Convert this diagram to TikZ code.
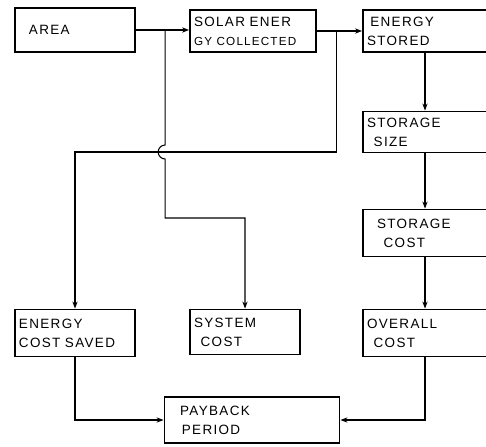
\documentclass[tikz,border=0pt]{standalone}
\usepackage{fontspec}
\setsansfont{Liberation Sans}[LetterSpace=10]
\usetikzlibrary{arrows.meta,calc}

\begin{document}
\begin{tikzpicture}[x=0.03cm, y=-0.03cm,
    box/.style={draw, line width=1.6pt, inner xsep=0.12cm, inner ysep=2pt, align=left,
      font=\sffamily\fontsize{11.5}{16}\selectfont},
    link/.style={line width=0.9pt},
    conn/.style={link, -{Stealth[length=6pt,width=4.5pt]}}]
    \useasboundingbox (0,0) rectangle (486,446);
    \clip (0,0) rectangle (486,446);
    % top row
    \node[box, text width=3.36cm, minimum height=1.32cm] (area) at (75,30) {\hspace*{0.3cm}AREA};
    \node[box, text width=3.54cm, minimum height=1.26cm] (solar) at (253,31) {SOLAR ENER\\{\fontsize{10}{16}\selectfont GY COLLECTED}};
    \node[box, text width=3.48cm, minimum height=1.26cm] (stored) at (425,31) {\hspace*{0.1cm}ENERGY\\STORED};
    % right column
    \node[box, text width=3.48cm, minimum height=1.23cm] (size) at (425,132) {STORAGE\\\hspace*{0.2cm}SIZE};
    \node[box, text width=3.48cm, minimum height=1.41cm] (stcost) at (425,233) {\hspace*{0.3cm}STORAGE\\\hspace*{0.5cm}COST};
    % bottom row
    \node[box, text width=3.36cm, minimum height=1.41cm] (saved) at (75,333) {ENERGY\\COST SAVED};
    \node[box, text width=3.06cm, minimum height=1.35cm] (system) at (245,332) {SYSTEM\\\hspace*{0.2cm}COST};
    \node[box, text width=3.48cm, minimum height=1.41cm] (overall) at (425,333) {OVERALL\\\hspace*{0.2cm}COST};
    \node[box, text width=5.01cm, minimum height=1.38cm] (payback) at (252,420) {\hspace*{0.35cm}PAYBACK\\\hspace*{0.4cm}PERIOD};

    % branch points
    \coordinate (j1) at ($(area.east)!0.55!(area.east -| solar.west)$);
    \coordinate (j2) at ($(solar.east)!0.43!(solar.east -| stored.west)$);
    \coordinate (k1) at (j1 |- 0,218);
    \coordinate (k2) at (j2 |- 0,152);

    \draw[conn] (area.east) -- (area.east -| solar.west);
    \draw[conn] (solar.east) -- (solar.east -| stored.west);
    \draw[conn] (j2) -- (k2) -| (saved.north);
    \draw[conn] (j1) -- ($(k2 -| j1)+(0,-7)$) arc[start angle=90, end angle=270, radius=0.21cm] -- (k1) -| (system.north);
    \draw[conn] (stored) -- (size);
    \draw[conn] (size) -- (stcost);
    \draw[conn] (stcost) -- (overall);
    \draw[conn] (saved.south) |- (payback.west);
    \draw[conn] (overall.south) |- (payback.east);
\end{tikzpicture}
\end{document}
